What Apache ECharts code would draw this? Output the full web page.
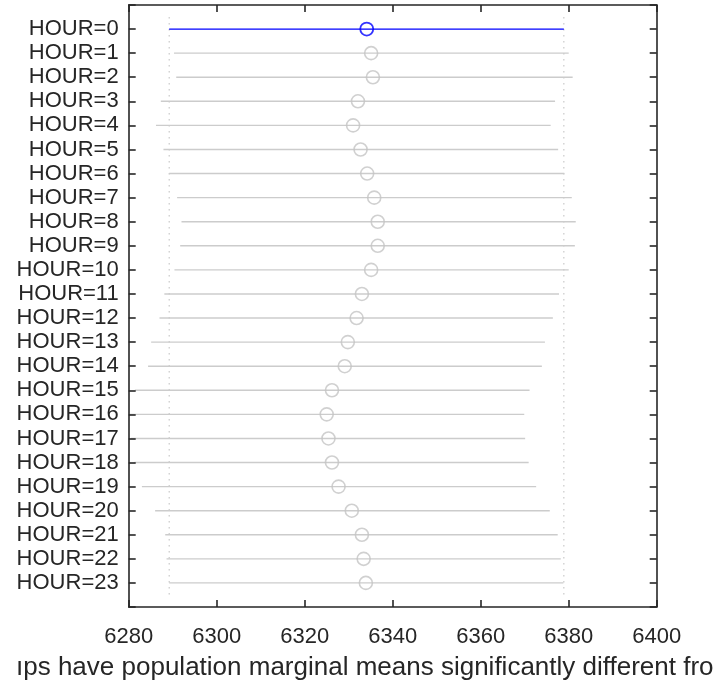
<!DOCTYPE html>
<html><head><meta charset="utf-8">
<script src="https://cdn.jsdelivr.net/npm/echarts@6/dist/echarts.min.js"></script>
<style>html,body{margin:0;padding:0;background:#fff}#c{width:722px;height:683px}</style>
</head><body><div id="c"></div>
<script>
const categories = ['HOUR=0','HOUR=1','HOUR=2','HOUR=3','HOUR=4','HOUR=5','HOUR=6','HOUR=7','HOUR=8','HOUR=9','HOUR=10','HOUR=11','HOUR=12','HOUR=13','HOUR=14','HOUR=15','HOUR=16','HOUR=17','HOUR=18','HOUR=19','HOUR=20','HOUR=21','HOUR=22','HOUR=23'];
const means = [6334.1, 6335.1, 6335.5, 6332.1, 6331.0, 6332.7, 6334.2, 6335.8, 6336.6, 6336.6, 6335.1, 6333.0, 6331.8, 6329.8, 6329.1, 6326.2, 6325.0, 6325.4, 6326.2, 6327.7, 6330.7, 6333.0, 6333.4, 6333.9];
const lows  = [6289.2, 6290.3, 6290.8, 6287.3, 6286.2, 6287.9, 6289.2, 6291.0, 6292.0, 6291.7, 6290.4, 6288.1, 6287.0, 6285.1, 6284.4, 6281.4, 6280.2, 6280.5, 6281.3, 6283.0, 6286.0, 6288.3, 6288.6, 6289.2];
const highs = [6378.9, 6380.0, 6380.9, 6376.9, 6375.9, 6377.6, 6379.0, 6380.7, 6381.6, 6381.4, 6380.0, 6377.8, 6376.4, 6374.6, 6373.9, 6371.1, 6369.9, 6370.1, 6370.9, 6372.6, 6375.7, 6377.5, 6378.2, 6378.8];
const xMin = 6280, xMax = 6400, xStep = 20;
const selected = 0;
const xlabelText = 'ıps have population marginal means significantly different fro';

const FONT = '"Liberation Sans", Arial, Helvetica, sans-serif';
const INK = '#262626';
const BLUE = '#0000ff';
const GREY = '#cccccc';

const intervalData = categories.map((c, i) => [lows[i], highs[i], i + 1, i]);
const meanData = categories.map((c, i) => ({
  value: [means[i], i + 1],
  itemStyle: { borderColor: i === selected ? BLUE : '#c4c4c4', borderWidth: i === selected ? 1.8 : 1.6, color: 'rgba(0,0,0,0)' }
}));
const refData = [[lows[selected], 0.5, 24.5], [highs[selected], 0.5, 24.5]];

const axisLineStyle = { show: true, onZero: false, lineStyle: { color: INK, width: 1.6 } };
const tickStyle = { show: true, inside: true, length: 7, lineStyle: { color: INK, width: 1.6 } };

const chart = echarts.init(document.getElementById('c'), null, { renderer: 'canvas' });
chart.setOption({
  animation: false,
  backgroundColor: '#ffffff',
  grid: { left: 128.7, right: 65.3, top: 5, bottom: 76, containLabel: false },
  xAxis: [
    { type: 'value', position: 'bottom', min: xMin, max: xMax, interval: xStep, z: 10,
      axisLine: axisLineStyle, axisTick: tickStyle, splitLine: { show: false },
      axisLabel: { color: INK, fontSize: 22, fontFamily: FONT, margin: 19, formatter: v => String(v) } },
    { type: 'value', position: 'top', min: xMin, max: xMax, interval: xStep, z: 10,
      axisLine: axisLineStyle, axisTick: tickStyle, splitLine: { show: false },
      axisLabel: { show: false } }
  ],
  yAxis: [
    { type: 'value', position: 'left', min: 0, max: categories.length + 1, interval: 1, inverse: true, z: 10,
      axisLine: axisLineStyle, axisTick: tickStyle, splitLine: { show: false },
      axisLabel: { color: INK, fontSize: 22, fontFamily: FONT, margin: 10,
        formatter: v => categories[v - 1] || '' } },
    { type: 'value', position: 'right', min: 0, max: categories.length + 1, interval: 1, inverse: true, z: 10,
      axisLine: axisLineStyle, axisTick: tickStyle, splitLine: { show: false },
      axisLabel: { show: false } }
  ],
  series: [
    { type: 'custom', xAxisIndex: 0, yAxisIndex: 0, data: refData, z: 1,
      encode: { x: 0, y: [1, 2] },
      renderItem: (params, api) => {
        const a = api.coord([api.value(0), api.value(1)]);
        const b = api.coord([api.value(0), api.value(2)]);
        return { type: 'line', shape: { x1: a[0], y1: a[1], x2: b[0], y2: b[1] },
          style: { stroke: '#bdbdbd', lineWidth: 1, lineDash: [1.5, 4.5] } };
      } },
    { type: 'custom', xAxisIndex: 0, yAxisIndex: 0, data: intervalData, z: 2,
      encode: { x: [0, 1], y: 2 },
      renderItem: (params, api) => {
        const idx = api.value(3);
        const a = api.coord([api.value(0), api.value(2)]);
        const b = api.coord([api.value(1), api.value(2)]);
        const sel = idx === selected;
        return { type: 'line', shape: { x1: a[0], y1: a[1], x2: b[0], y2: b[1] },
          style: { stroke: sel ? BLUE : GREY, lineWidth: sel ? 1.2 : 1.4 } };
      } },
    { type: 'scatter', xAxisIndex: 0, yAxisIndex: 0, data: meanData, z: 3,
      symbol: 'circle', symbolSize: 13 }
  ],
  graphic: [
    { type: 'text', left: 16, top: 655, silent: true,
      style: { text: xlabelText, font: '26px ' + FONT, fill: INK } }
  ]
});
</script>
</body></html>
